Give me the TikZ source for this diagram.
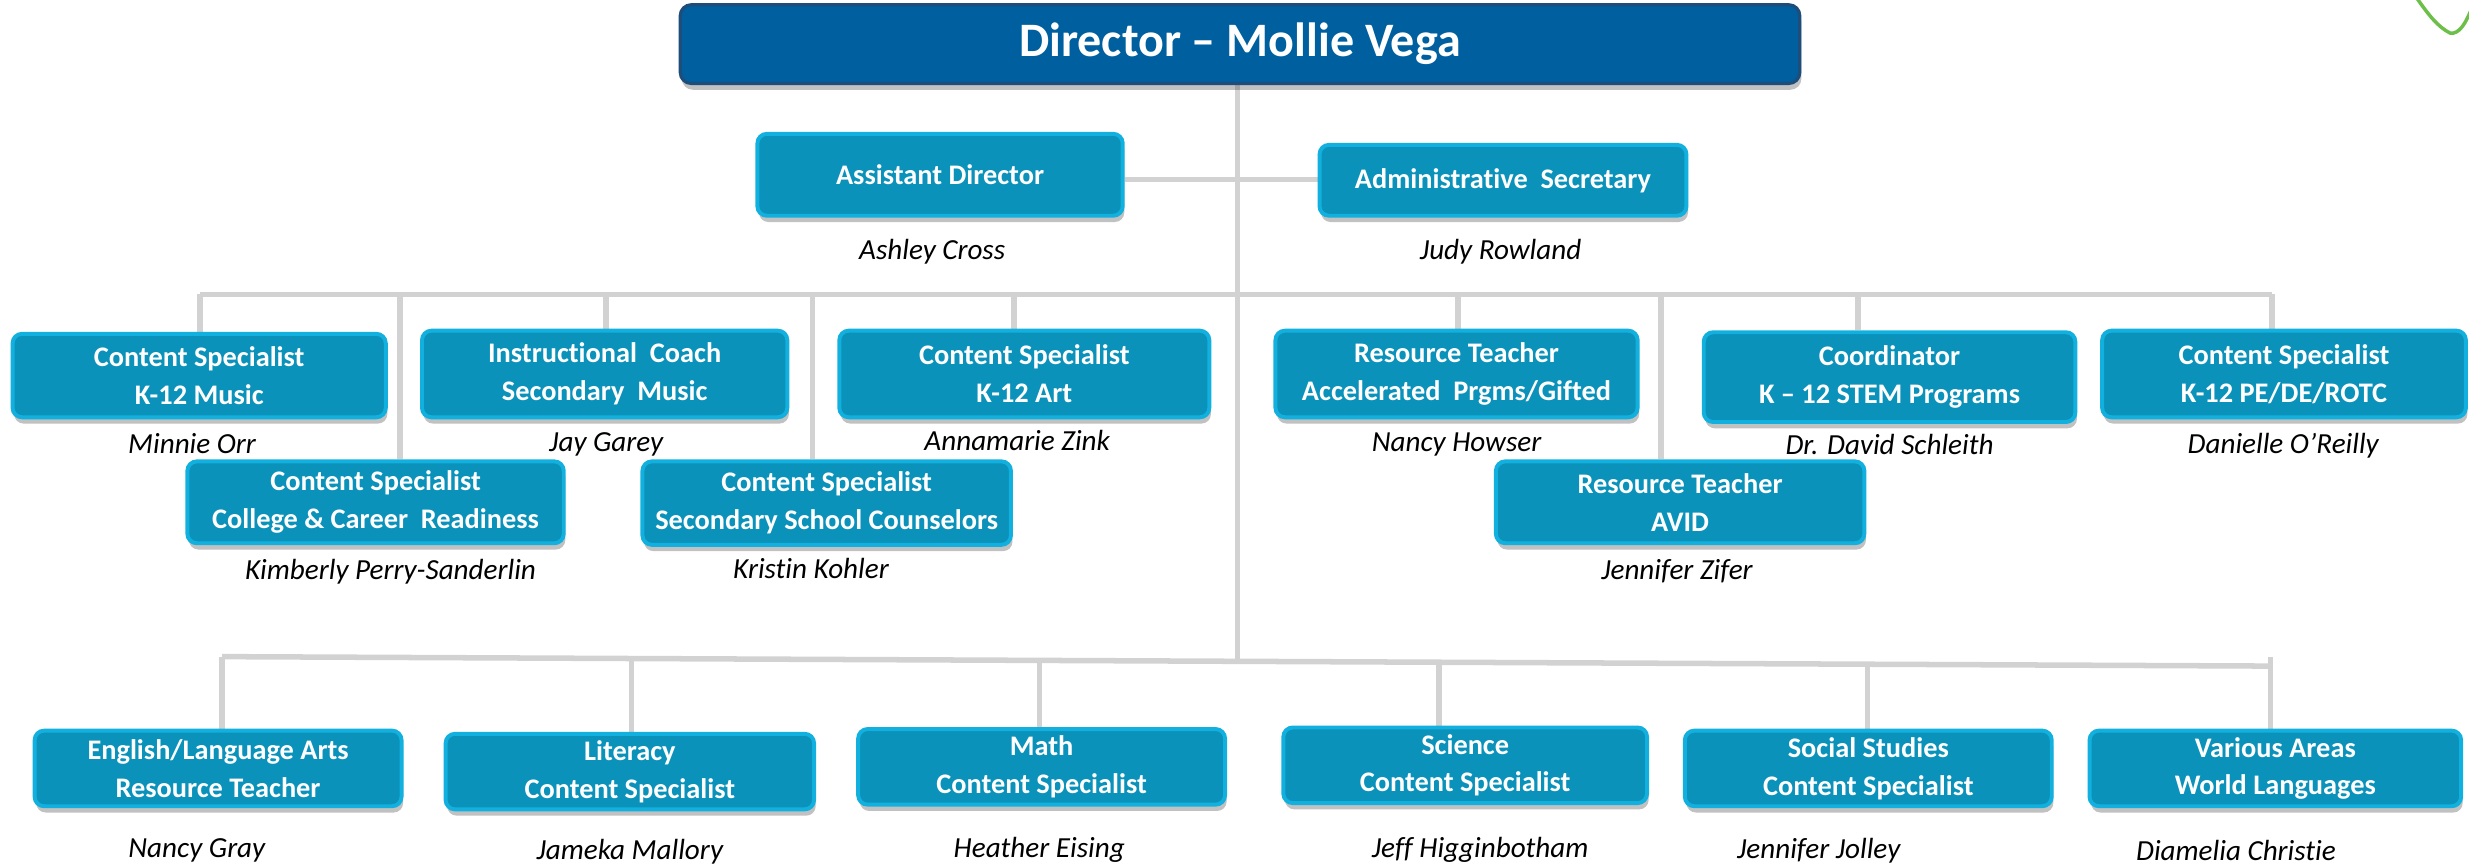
\documentclass[tikz,border=0pt]{standalone}
\usepackage{fontspec}
\setmainfont{Carlito}[Ligatures=NoCommon]
\usetikzlibrary{shadows,backgrounds}
\definecolor{boxfill}{HTML}{0B92BA}
\definecolor{boxedge}{HTML}{12B0DE}
\definecolor{dirfill}{HTML}{005F9E}
\definecolor{diredge}{HTML}{1D4D7A}
\definecolor{linegray}{HTML}{D2D2D2}
\definecolor{scribble}{HTML}{6CC04A}
\begin{document}
\begin{tikzpicture}[x=1pt,y=-1pt,
  unit/.style={rounded corners=6pt, fill=boxfill, draw=boxedge, line width=2.5pt,
    text=white, font=\fontsize{18}{24}\selectfont\bfseries, align=center, inner sep=0pt,
    drop shadow={shadow xshift=1pt,shadow yshift=-4pt,opacity=0.35,fill=black!70}},
  who/.style={font=\fontsize{18.5}{20}\selectfont\itshape, inner sep=0pt},
  link/.style={draw=linegray, line width=3.5pt}]
\useasboundingbox (0,0) rectangle (1568,550);

% director
\node[rounded corners=7pt, fill=dirfill, draw=diredge, line width=2pt, text=white,
  font=\fontsize{30.5}{34}\selectfont\bfseries, minimum width=711pt, minimum height=50pt,
  inner sep=0pt, drop shadow={shadow xshift=1pt,shadow yshift=-4pt,opacity=0.35,fill=black!70}]
  (dir) at (787.5,28) {Director -- Mollie Vega};

% level 1
\node[unit, minimum width=232pt, minimum height=52pt] (asst) at (597,111) {Assistant Director};
\node[who] (nasst) at (592,160) {Ashley Cross};
\node[unit, minimum width=233pt, minimum height=45pt] (admin) at (954.5,114.5) {Administrative\ \ Secretary};
\node[who] (nadmin) at (953,160) {Judy Rowland};

% level 2
\node[unit, minimum width=237pt, minimum height=53pt] (music) at (126.5,238.5) {Content Specialist\\K-12 Music};
\node[who] (nmusic) at (122,282) {Minnie Orr};
\node[unit, minimum width=232pt, minimum height=55pt] (instr) at (384,237.5) {Instructional\ \ Coach\\Secondary\ \ Music};
\node[who] (ninstr) at (385,282) {Jay Garey};
\node[unit, minimum width=235pt, minimum height=55pt] (art) at (650.5,237.5) {Content Specialist\\K-12 Art};
\node[who] (nart) at (646,280) {Annamarie Zink};
\node[unit, minimum width=239pt, minimum height=52pt] (ccr) at (238.5,319) {Content Specialist\\College \& Career\ \ Readiness};
\node[who] (nccr) at (248,363) {Kimberly Perry-Sanderlin};
\node[unit, minimum width=234pt, minimum height=53pt] (ssc) at (525,319.5) {Content Specialist\\Secondary School Counselors};
\node[who] (nssc) at (515,361) {Kristin Kohler};
\node[unit, minimum width=230pt, minimum height=55pt] (accel) at (925,237.5) {Resource Teacher\\Accelerated\ \ Prgms/Gifted};
\node[who] (naccel) at (925,282) {Nancy Howser};
\node[unit, minimum width=234pt, minimum height=52pt] (avid) at (1067,319) {Resource Teacher\\AVID};
\node[who] (navid) at (1065,363) {Jennifer Zifer};
\node[unit, minimum width=236pt, minimum height=57pt] (stem) at (1200,239.5) {Coordinator\\K -- 12 STEM Programs};
\node[who] (nstem) at (1200,282) {Dr. David Schleith};
\node[unit, minimum width=231pt, minimum height=55pt] (pe) at (1450.5,237.5) {Content Specialist\\K-12 PE/DE/ROTC};
\node[who] (npe) at (1450,283) {Danielle O'Reilly};

% level 3
\node[unit, minimum width=233pt, minimum height=48pt] (ela) at (138.5,488) {English/Language Arts\\Resource Teacher};
\node[who] (nela) at (125,540) {Nancy Gray};
\node[unit, minimum width=234pt, minimum height=48pt] (lit) at (400,490) {Literacy\\Content Specialist};
\node[who] (nlit) at (400,541) {Jameka Mallory};
\node[unit, minimum width=233pt, minimum height=48pt] (math) at (661.5,487) {Math\\Content Specialist};
\node[who] (nmath) at (660,540) {Heather Eising};
\node[unit, minimum width=231pt, minimum height=48pt] (sci) at (930.5,486) {Science\\Content Specialist};
\node[who] (nsci) at (940,540) {Jeff Higginbotham};
\node[unit, minimum width=233pt, minimum height=48pt] (soc) at (1186.5,488) {Social Studies\\Content Specialist};
\node[who] (nsoc) at (1155,540) {Jennifer Jolley};
\node[unit, minimum width=236pt, minimum height=48pt] (wl) at (1445,488) {Various Areas\\World Languages};
\node[who] (nwl) at (1420,540) {Diamelia Christie};

% bus coordinates
\coordinate (t0) at (786,53);
\coordinate (t1) at (786,114);
\coordinate (t2) at (786,187);
\coordinate (t3) at (786,420);
\coordinate (a1) at (127,187);
\coordinate (a2) at (254,187);
\coordinate (a3) at (385,187);
\coordinate (a4) at (516,187);
\coordinate (a5) at (644,187);
\coordinate (a6) at (926,187);
\coordinate (a7) at (1055,187);
\coordinate (a8) at (1180,187);
\coordinate (a9) at (1443,187);
\coordinate (c1) at (141,417);
\coordinate (c2) at (401,418.2);
\coordinate (c3) at (660,419.4);
\coordinate (c4) at (914,420.6);
\coordinate (c5) at (1186,421.8);
\coordinate (c6) at (1442,423);

\begin{scope}[on background layer]
  \draw[link] (t0) -- (t3);
  \draw[link] (asst.east |- t1) -- (admin.west |- t1);
  \draw[link] (a1) -- (a9);
  \draw[link] (a1) -- (a1 |- music.north);
  \draw[link] (a2) -- (a2 |- ccr.north);
  \draw[link] (a3) -- (a3 |- instr.north);
  \draw[link] (a4) -- (a4 |- ssc.north);
  \draw[link] (a5) -- (a5 |- art.north);
  \draw[link] (a6) -- (a6 |- accel.north);
  \draw[link] (a7) -- (a7 |- avid.north);
  \draw[link] (a8) -- (a8 |- stem.north);
  \draw[link] (a9) -- (a9 |- pe.north);
  \draw[link] (c1) -- (c6);
  \draw[link] (c1) -- (c1 |- ela.north);
  \draw[link] (c2) -- (c2 |- lit.north);
  \draw[link] (c3) -- (c3 |- math.north);
  \draw[link] (c4) -- (c4 |- sci.north);
  \draw[link] (c5) -- (c5 |- soc.north);
  \draw[link] ([yshift=6pt]c6) -- (c6 |- wl.north);
\end{scope}

% green scribble at top right
\draw[scribble, line width=2.2pt, line cap=round]
  (1535,-1) .. controls (1542,9) and (1548,17) .. (1556,21)
  .. controls (1562,22) and (1566,14) .. (1569,7);
\end{tikzpicture}
\end{document}
